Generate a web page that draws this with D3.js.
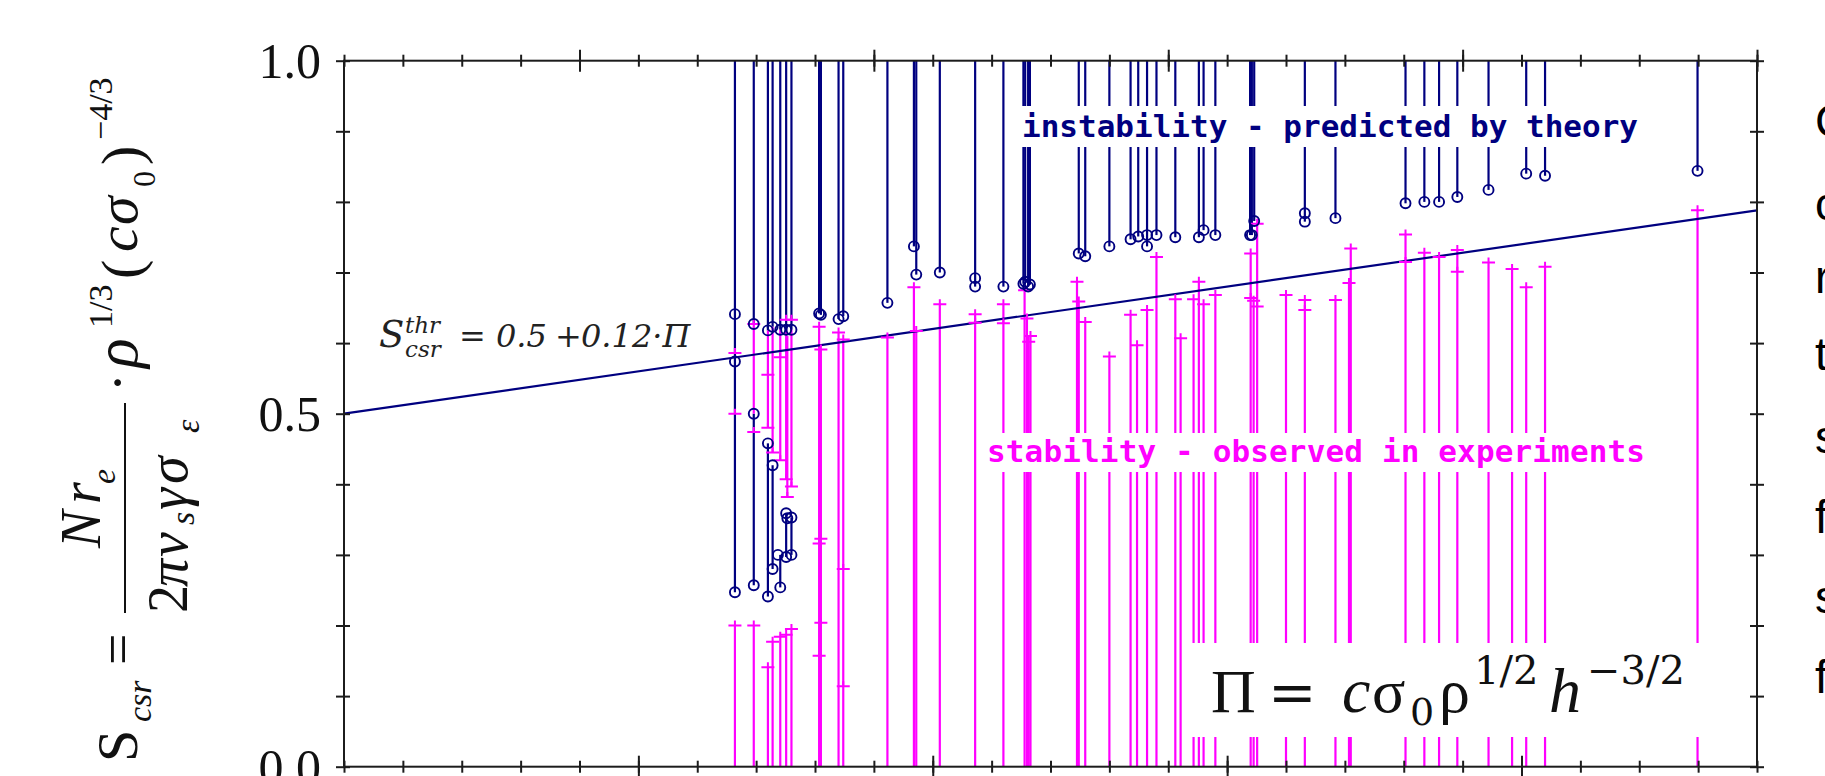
<!DOCTYPE html>
<html>
<head>
<meta charset="utf-8">
<script src="https://cdn.jsdelivr.net/npm/d3@7"></script>
<style>
  body { margin: 0; background: #fff; overflow: hidden; }
  svg { display: block; }
</style>
</head>
<body>
<svg id="chart" width="1825" height="776"></svg>
<script>
// instability points: [Pi, S]  (navy circles)
const unstablePts = [
  [0.664, 0.641], [0.664, 0.574], [0.664, 0.247],
  [0.696, 0.627], [0.696, 0.500], [0.696, 0.257],
  [0.720, 0.618], [0.720, 0.458], [0.720, 0.241],
  [0.728, 0.623], [0.728, 0.427], [0.728, 0.280],
  [0.741, 0.619], [0.737, 0.300], [0.741, 0.254],
  [0.751, 0.619], [0.751, 0.359], [0.753, 0.352], [0.751, 0.297],
  [0.760, 0.619], [0.760, 0.353], [0.760, 0.300],
  [0.807, 0.642], [0.810, 0.640], [0.840, 0.634], [0.848, 0.638], [0.923, 0.657],
  [0.968, 0.737], [0.972, 0.697], [1.012, 0.700], [1.072, 0.692], [1.072, 0.680],
  [1.120, 0.680], [1.154, 0.684], [1.157, 0.687], [1.162, 0.680], [1.165, 0.683],
  [1.248, 0.727], [1.259, 0.723], [1.300, 0.737], [1.336, 0.747], [1.349, 0.751],
  [1.364, 0.753], [1.364, 0.737], [1.380, 0.753], [1.412, 0.750], [1.452, 0.750],
  [1.460, 0.760], [1.480, 0.753], [1.539, 0.753], [1.542, 0.753], [1.546, 0.773],
  [1.632, 0.784], [1.632, 0.772], [1.684, 0.777], [1.803, 0.798], [1.835, 0.800],
  [1.860, 0.800], [1.891, 0.807], [1.944, 0.817], [2.008, 0.840], [2.040, 0.837],
  [2.299, 0.844]
];

// stability points: [Pi, S]  (magenta crosses)
const stablePts = [
  [0.664, 0.586], [0.664, 0.500], [0.664, 0.200],
  [0.696, 0.627], [0.696, 0.474], [0.696, 0.200],
  [0.720, 0.555], [0.720, 0.480], [0.720, 0.141],
  [0.728, 0.445], [0.728, 0.177],
  [0.741, 0.580], [0.741, 0.434], [0.741, 0.184],
  [0.751, 0.633], [0.751, 0.407], [0.753, 0.382], [0.751, 0.187],
  [0.760, 0.633], [0.760, 0.397], [0.760, 0.195],
  [0.807, 0.623], [0.810, 0.591], [0.810, 0.323], [0.807, 0.316], [0.810, 0.204], [0.807, 0.157],
  [0.840, 0.615], [0.848, 0.605], [0.848, 0.280], [0.848, 0.114],
  [0.923, 0.608], [0.968, 0.679], [0.972, 0.617], [1.012, 0.655], [1.072, 0.641], [1.072, 0.629],
  [1.120, 0.655], [1.120, 0.628], [1.156, 0.675], [1.160, 0.635], [1.163, 0.602], [1.166, 0.610],
  [1.245, 0.687], [1.248, 0.659], [1.259, 0.630], [1.300, 0.581], [1.336, 0.640], [1.347, 0.597],
  [1.364, 0.647], [1.380, 0.722], [1.412, 0.662], [1.421, 0.607], [1.443, 0.662], [1.452, 0.687],
  [1.460, 0.655], [1.480, 0.668], [1.540, 0.727], [1.540, 0.664], [1.545, 0.660],
  [1.551, 0.769], [1.551, 0.652],
  [1.600, 0.668], [1.632, 0.661], [1.632, 0.647], [1.684, 0.661], [1.707, 0.685], [1.710, 0.734],
  [1.803, 0.754], [1.803, 0.715], [1.835, 0.728], [1.860, 0.722], [1.891, 0.732], [1.891, 0.701],
  [1.944, 0.714], [1.984, 0.705], [2.008, 0.679], [2.040, 0.708], [2.299, 0.788]
];

// low-Pi cluster: ranges drawn as stems [Pi, from, to]
const clusterNavy = [
  [0.664, 0.247, 1], [0.696, 0.627, 1], [0.696, 0.257, 0.500],
  [0.720, 0.618, 1], [0.720, 0.241, 0.458], [0.728, 0.623, 1], [0.728, 0.280, 0.427],
  [0.741, 0.619, 1], [0.741, 0.254, 0.300], [0.751, 0.619, 1], [0.751, 0.297, 0.359],
  [0.760, 0.619, 1], [0.760, 0.300, 0.353]
];
const clusterMagenta = [
  [0.696, 0.500, 0.627], [0.720, 0.480, 0.618], [0.728, 0.445, 0.623],
  [0.741, 0.434, 0.619], [0.751, 0.407, 0.619], [0.753, 0.382, 0.610], [0.760, 0.397, 0.619],
  [0.664, 0, 0.200], [0.696, 0, 0.200], [0.720, 0, 0.141], [0.728, 0, 0.177],
  [0.741, 0, 0.184], [0.751, 0, 0.187], [0.760, 0, 0.195]
];

// threshold S = 0.5 + 0.12*Pi
const thrCoef = [0.5, 0.12];
const xDomain = [0, 2.4];
const yTickLabels = [0, 0.5, 1.0];

const NAVY = '#000080';
const MAGENTA = '#ff00ff';
const AXIS = '#1c1c1c';

const svg = d3.select('#chart');
svg.append('rect').attr('width', 1825).attr('height', 776).attr('fill', '#fff');

const x = d3.scaleLinear().domain(xDomain).range([344, 1757]);
const y = d3.scaleLinear().domain([0, 1]).range([766.7, 60.7]);

// stems above Pi=0.8: navy from lowest circle up, magenta from 0 to highest cross
const navyStems = d3.rollups(unstablePts.filter(d => d[0] > 0.8), v => d3.min(v, d => d[1]), d => d[0])
  .map(([p, s]) => [p, s, 1]).concat(clusterNavy);
const magStems = d3.rollups(stablePts.filter(d => d[0] > 0.8), v => d3.max(v, d => d[1]), d => d[0])
  .map(([p, s]) => [p, 0, s]);

const stems = svg.append('g');
stems.selectAll('line.mag')
  .data(magStems)
  .join('line')
  .attr('class', 'mag')
  .attr('x1', d => x(d[0])).attr('x2', d => x(d[0]))
  .attr('y1', d => y(d[1])).attr('y2', d => y(d[2]))
  .attr('stroke', MAGENTA).attr('stroke-width', 2.2);

stems.selectAll('line.navy')
  .data(navyStems)
  .join('line')
  .attr('class', 'navy')
  .attr('x1', d => x(d[0])).attr('x2', d => x(d[0]))
  .attr('y1', d => y(d[1])).attr('y2', d => y(d[2]))
  .attr('stroke', NAVY).attr('stroke-width', 2.2);

stems.selectAll('line.magc')
  .data(clusterMagenta)
  .join('line')
  .attr('class', 'magc')
  .attr('x1', d => x(d[0])).attr('x2', d => x(d[0]))
  .attr('y1', d => y(d[1])).attr('y2', d => y(d[2]))
  .attr('stroke', MAGENTA).attr('stroke-width', 2.2);

// threshold line
svg.append('line')
  .attr('x1', x(xDomain[0])).attr('y1', y(thrCoef[0] + thrCoef[1] * xDomain[0]))
  .attr('x2', x(xDomain[1])).attr('y2', y(thrCoef[0] + thrCoef[1] * xDomain[1]))
  .attr('stroke', NAVY).attr('stroke-width', 2.2);

// labels with white backing
const mono = '"DejaVu Sans Mono", "Liberation Mono", monospace';
svg.append('rect').attr('x', 1016).attr('y', 106).attr('width', 630).attr('height', 41).attr('fill', '#fff');
svg.append('text')
  .attr('x', 1022).attr('y', 137)
  .attr('textLength', 616).attr('lengthAdjust', 'spacing')
  .style('font-family', mono).style('font-weight', 'bold').style('font-size', '31px')
  .attr('fill', NAVY)
  .text('instability - predicted by theory');

svg.append('rect').attr('x', 982).attr('y', 433).attr('width', 670).attr('height', 39).attr('fill', '#fff');
svg.append('text')
  .attr('x', 987).attr('y', 462)
  .attr('textLength', 658).attr('lengthAdjust', 'spacing')
  .style('font-family', mono).style('font-weight', 'bold').style('font-size', '31px')
  .attr('fill', MAGENTA)
  .text('stability - observed in experiments');

svg.append('rect').attr('x', 1186).attr('y', 643).attr('width', 530).attr('height', 94).attr('fill', '#fff');
const serif = '"Liberation Serif", "DejaVu Serif", serif';
const dserif = '"DejaVu Serif", "Liberation Serif", serif';
const piText = svg.append('g').attr('fill', '#111');
[
  ['Π', 1211, 712, 62, 'normal', serif], ['=', 1268, 712, 58, 'normal', dserif],
  ['c', 1342, 712, 64, 'italic', serif], ['σ', 1372, 712, 62, 'normal', serif],
  ['0', 1410, 725, 38, 'normal', dserif], ['ρ', 1439, 712, 62, 'normal', serif],
  ['1/2', 1474, 684, 40, 'normal', dserif], ['h', 1549, 712, 64, 'italic', serif],
  ['−3/2', 1587, 684, 40, 'normal', dserif]
].forEach(([t, px, py, fs, st, ff]) => {
  piText.append('text').attr('x', px).attr('y', py).style('font-family', ff)
    .style('font-size', fs + 'px').style('font-style', st).text(t);
});

// markers
const crosses = svg.append('g');
crosses.selectAll('path')
  .data(stablePts)
  .join('path')
  .attr('d', d => `M${x(d[0]) - 6.5},${y(d[1])}h13M${x(d[0])},${y(d[1]) - 5}v5`)
  .attr('stroke', MAGENTA).attr('stroke-width', 2).attr('fill', 'none');

svg.append('g').selectAll('circle')
  .data(unstablePts)
  .join('circle')
  .attr('cx', d => x(d[0])).attr('cy', d => y(d[1])).attr('r', 5)
  .attr('fill', 'none').attr('stroke', NAVY).attr('stroke-width', 1.9);

// threshold formula
const thr = svg.append('text').style('font-family', dserif).style('font-style', 'italic').attr('fill', '#222');
thr.append('tspan').attr('x', 379).attr('y', 347).style('font-size', '37px').text('S');
thr.append('tspan').attr('x', 405).attr('y', 333).style('font-size', '23px').text('thr');
thr.append('tspan').attr('x', 405).attr('y', 357).style('font-size', '23px').text('csr');
thr.append('tspan').attr('x', 459).attr('y', 347).style('font-size', '32px').style('font-style', 'normal').text('=');
thr.append('tspan').attr('x', 496).attr('y', 347).style('font-size', '32px').text('0.5');
thr.append('tspan').attr('x', 555).attr('y', 347).style('font-size', '32px').style('font-style', 'normal').text('+');
thr.append('tspan').attr('x', 581).attr('y', 347).style('font-size', '32px').text('0.12·Π');

// axes
const axes = svg.append('g').attr('color', AXIS);
const minorX = d3.range(0, 25).map(i => i / 10);
const topMajor = [0.4, 0.9, 1.4, 1.9, 2.4];
const botMajor = [0.5, 1.0, 1.5, 2.0];
const minorY = d3.range(0, 11).map(i => i / 10);

function ticks(gen, scale, vals, size, tx, ty) {
  const g = axes.append('g').attr('transform', `translate(${tx},${ty})`)
    .call(gen(scale).tickValues(vals).tickSize(size).tickSizeOuter(0).tickFormat(''));
  g.select('.domain').remove();
  g.selectAll('line').attr('stroke-width', 2);
  return g;
}
ticks(d3.axisTop, x, minorX, 6, 0, y(1));
ticks(d3.axisBottom, x, minorX, 6, 0, y(1));
ticks(d3.axisTop, x, topMajor, 11, 0, y(1));
ticks(d3.axisBottom, x, topMajor, 11, 0, y(1));
ticks(d3.axisTop, x, minorX, 6, 0, y(0));
ticks(d3.axisBottom, x, minorX, 6, 0, y(0));
ticks(d3.axisTop, x, botMajor, 11, 0, y(0));
ticks(d3.axisBottom, x, botMajor, 11, 0, y(0));
ticks(d3.axisLeft, y, minorY, 8, x(0), 0);
ticks(d3.axisRight, y, minorY, 6, x(0), 0);
ticks(d3.axisLeft, y, minorY, 7, x(2.4), 0);
ticks(d3.axisRight, y, minorY, 7, x(2.4), 0);

axes.append('rect')
  .attr('x', x(0)).attr('y', y(1)).attr('width', x(2.4) - x(0)).attr('height', y(0) - y(1))
  .attr('fill', 'none').attr('stroke', AXIS).attr('stroke-width', 2);

const yLab = axes.append('g').attr('transform', `translate(${x(0)},0)`)
  .call(d3.axisLeft(y).tickValues(yTickLabels).tickSize(0).tickPadding(23).tickFormat(d3.format('.1f')));
yLab.select('.domain').remove();
yLab.selectAll('text')
  .style('font-family', serif).style('font-size', '50px').attr('fill', '#111').attr('dy', '0.34em');

// y axis title (rotated)
const yt = svg.append('g').attr('transform', 'translate(0,776) rotate(-90)')
  .style('font-family', serif).attr('fill', '#111');
[
  ['S', 14, 137, 58, 'normal'], ['csr', 54, 151, 34, 'italic'], ['=', 111, 137, 56, 'normal'],
  ['N', 228, 100, 56, 'italic'], ['r', 272, 100, 56, 'italic'], ['e', 292, 115, 34, 'italic'],
  ['2', 163, 187, 56, 'normal'], ['π', 189, 187, 56, 'italic'], ['ν', 219, 187, 56, 'italic'],
  ['s', 251, 194, 34, 'italic'], ['γ', 266, 187, 56, 'italic'], ['σ', 292, 187, 56, 'italic'],
  ['ε', 343, 199, 34, 'italic'],
  ['·', 384, 137, 56, 'normal'], ['ρ', 408, 137, 62, 'italic'], ['1/3', 448, 112, 34, 'normal'],
  ['(', 497, 141, 58, 'normal'], ['c', 524, 137, 58, 'italic'], ['σ', 551, 137, 58, 'italic'],
  ['0', 589, 155, 32, 'normal'], [')', 611, 141, 58, 'normal'], ['−4/3', 636, 112, 34, 'normal']
].forEach(([t, u, v, fs, st]) => {
  yt.append('text').attr('x', u).attr('y', v).style('font-size', fs + 'px').style('font-style', st).text(t);
});
yt.append('line').attr('x1', 163).attr('x2', 373).attr('y1', 125).attr('y2', 125)
  .attr('stroke', '#111').attr('stroke-width', 2);

// slide text running off the right edge
const side = svg.append('g').style('font-family', '"Liberation Sans", Arial, sans-serif')
  .style('font-size', '46px').attr('fill', '#000');
[['C', 137], ['c', 220], ['r', 293], ['t', 370], ['s', 453], ['f', 533], ['s', 613], ['f', 693]]
  .forEach(([t, b]) => side.append('text').attr('x', 1815).attr('y', b).text(t));
</script>
</body>
</html>
